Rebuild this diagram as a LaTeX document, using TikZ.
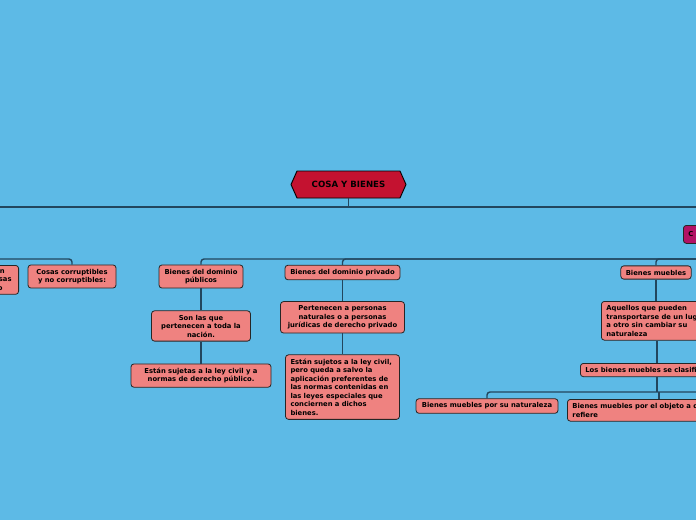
\documentclass[tikz,border=0pt]{standalone}
\usepackage{fontspec}
\setmainfont{DejaVu Sans}
\usetikzlibrary{positioning,shapes.symbols}

\definecolor{sky}{RGB}{93,186,230}
\definecolor{crimson}{RGB}{196,18,48}
\definecolor{coral}{RGB}{239,130,128}
\definecolor{plum}{RGB}{178,17,100}
\definecolor{wire}{RGB}{34,70,94}

\begin{document}
\begin{tikzpicture}[
  x=1pt, y=-1pt,
  box/.style={rectangle, rounded corners=3pt, draw=black!85, line width=0.8pt, fill=coral, align=center, inner xsep=5pt, inner ysep=4pt, font=\fontsize{6.8}{8.5}\selectfont\bfseries},
  leftbox/.style={box, align=left},
  link/.style={draw=wire, line width=1.4pt, rounded corners=3pt}
]
  \fill[sky] (0,0) rectangle (696,520);
  \useasboundingbox (0,0) rectangle (696,520);

  % Root
  \node[signal, signal to=east and west, signal pointer angle=132, minimum width=115pt, minimum height=27pt, fill=crimson, draw=black, line width=0.9pt, font=\fontsize{8.6}{10}\selectfont\bfseries] (cosa) at (348.5,184.5) {COSA Y BIENES};
  \node[box, fill=plum, anchor=north west, minimum height=18pt, text width=40pt, align=left] (clasific) at (683,225) {C};

  % First row
  \node[box, anchor=north east, text width=60pt, align=right] (comercio) at (19,265) {n\kern9pt\\sas\kern2pt\\o\kern11pt};
  \node[box, minimum width=88pt] (corrupt) at (72,276.5) {Cosas corruptibles\\y no corruptibles:};
  \node[box, minimum width=84pt] (publicos) at (201,276.5) {Bienes del dominio\\públicos};
  \node[box, minimum width=115pt] (privado) at (342.5,272.5) {Bienes del dominio privado};
  \node[box, minimum width=70pt] (muebles) at (656,272.5) {Bienes muebles};

  % Public branch
  \node[box, minimum width=99pt, below=22pt of publicos] (toda) {Son las que\\pertenecen a toda la\\nación.};
  \node[box, minimum width=140pt, below=22pt of toda] (sujetas) {Están sujetas a la ley civil y a\\normas de derecho público.};

  % Private branch
  \node[box, minimum width=124pt, below=21pt of privado] (personas) {Pertenecen a personas\\naturales o a personas\\jurídicas de derecho privado};
  \node[leftbox, text width=104pt, below=21pt of personas] (sujetos) {Están sujetos a la ley civil,\\pero queda a salvo la\\aplicación preferentes de\\las normas contenidas en\\las leyes especiales que\\conciernen a dichos\\bienes.};

  % Movable branch
  \node[leftbox, anchor=north west] (aquellos) at (601,301) {Aquellos que pueden\\transportarse de un lugar\\a otro sin cambiar su\\naturaleza};
  \node[leftbox, anchor=north west] (clasif) at (580,363) {Los bienes muebles se clasifican en:};
  \node[box, minimum width=142pt] (naturaleza) at (487,406) {Bienes muebles por su naturaleza};
  \node[leftbox, anchor=north west] (objeto) at (567,399) {Bienes muebles por el objeto a que se\\refiere};

  % Connectors
  \coordinate (westA) at (0,207);
  \coordinate (eastA) at (696,207);
  \coordinate (westB) at (0,259);
  \coordinate (eastB) at (696,259);
  \coordinate (forkC) at (657,392);
  \coordinate (eastC) at (696,392);
  \coordinate (objtop) at (659,399);

  \draw[link] (cosa.south) -- (cosa.south |- westA);
  \draw[link] (westA) -- (eastA);
  \draw[link] (westB) -| (corrupt.north);
  \draw[link] (eastB) -| (publicos.north);
  \draw[link] (eastB) -| (privado.north);
  \draw[link] (eastB) -| (muebles.north);
  \draw[link] (publicos) -- (toda);
  \draw[link] (toda) -- (sujetas);
  \draw[link] (privado) -- (personas);
  \draw[link] (personas) -- (sujetos);
  \draw[link] (muebles.south) -- (muebles.south |- aquellos.north);
  \draw[link] (forkC |- aquellos.south) -- (forkC |- clasif.north);
  \draw[link] (forkC |- clasif.south) -- (forkC);
  \draw[link] (eastC) -| (naturaleza.north);
  \draw[link] (objtop |- forkC) -- (objtop);
\end{tikzpicture}
\end{document}
